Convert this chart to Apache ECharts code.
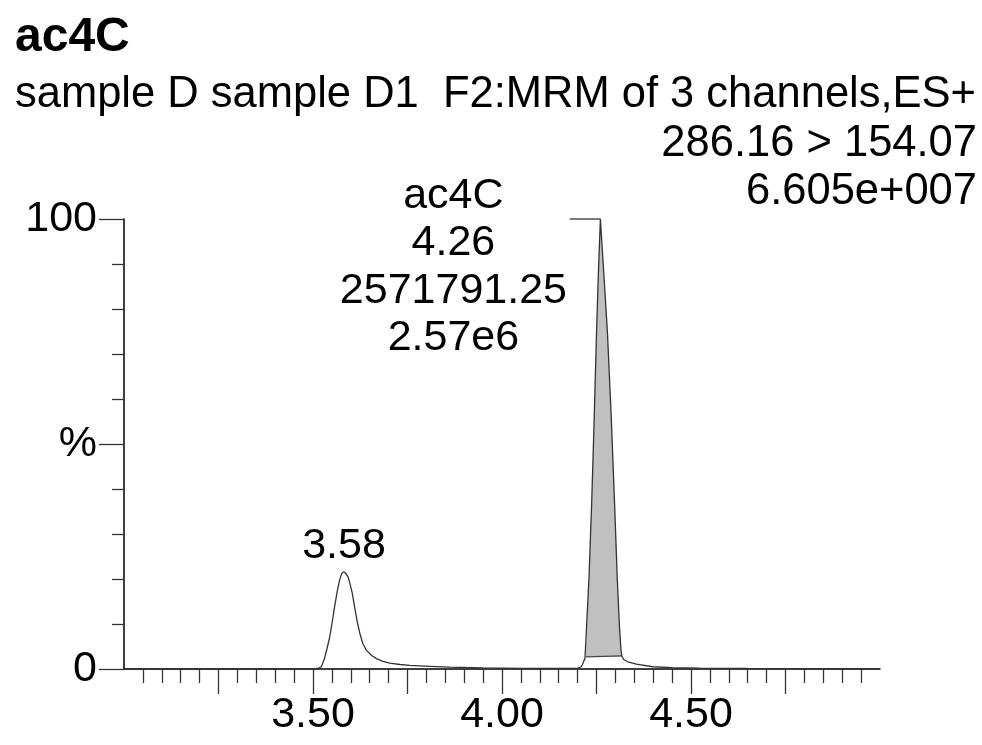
<!DOCTYPE html>
<html>
<head>
<meta charset="utf-8">
<script src="https://cdn.jsdelivr.net/npm/echarts@6/dist/echarts.min.js"></script>
<style>html,body{margin:0;padding:0;background:#fff}#c{width:982px;height:745px}</style>
</head>
<body>
<div id="c"></div>
<script>
// ---- data ----
const trace = [
  [3.000,0.0],[3.300,0.0],[3.500,0.05],[3.515,0.2],[3.522,0.5],[3.530,2.2],[3.537,4.5],[3.544,7.0],
  [3.551,10.5],[3.557,13.8],[3.564,17.2],[3.570,19.7],[3.576,21.2],[3.582,21.6],[3.588,21.1],
  [3.593,20.4],[3.597,19.2],[3.604,16.8],[3.610,13.8],[3.617,10.5],[3.624,7.9],[3.632,5.6],
  [3.641,4.2],[3.655,3.0],[3.668,2.3],[3.685,1.7],[3.703,1.3],[3.730,1.0],[3.756,0.8],[3.809,0.6],
  [3.862,0.4],[3.950,0.25],[4.050,0.15],[4.150,0.12],[4.200,0.15],[4.205,0.25],[4.2095,0.5],
  [4.213,1.0],[4.2165,1.8],[4.2195,2.3],[4.2217,2.7],[4.2300,20],[4.2375,37.5],[4.2440,56],
  [4.2500,74.7],[4.2550,88],[4.2603,100],[4.2700,87],[4.2790,74.7],[4.2890,56],[4.2975,37.5],
  [4.3050,20],[4.3110,9],[4.3150,4.0],[4.3170,2.9],[4.3220,2.1],[4.3330,1.6],[4.3556,1.1],
  [4.3987,0.5],[4.450,0.3],[4.523,0.18],[4.650,0.12],[5.000,0.1]
];
const integratedRange = [4.2217, 4.3170];
const integrationBaseline = [[4.2217,2.7],[4.3170,2.9]];
const leaderLine = [[4.179,100],[4.2603,100]];
const xMajorTicks = [3.25,3.5,3.75,4.0,4.25,4.5,4.75];
const xMinorTicks = [3.05,3.10,3.15,3.20,3.30,3.35,3.40,3.45,3.55,3.60,3.65,3.70,3.80,3.85,3.90,3.95,
  4.05,4.10,4.15,4.20,4.30,4.35,4.40,4.45,4.55,4.60,4.65,4.70,4.80,4.85,4.90,4.95];
const xLabelValues = [3.5,4.0,4.5];
const yMajorTicks = [0,50,100];
const yMinorTicks = [10,20,30,40,60,70,80,90];
const yLabelText = {0:'0',50:'%',100:'100'};
const smallPeak = {rt:'3.58', coord:[3.582,21.6]};
const mainPeak = {coord:[4.2603,100], lines:['ac4C','4.26','2571791.25','2.57e6']};

const FONT = '"Liberation Sans", Arial, sans-serif';
const chart = echarts.init(document.getElementById('c'), null, {renderer:'canvas'});
const integrated = trace.filter(p => p[0] >= integratedRange[0] && p[0] <= integratedRange[1]);

chart.setOption({
  animation:false,
  backgroundColor:'#fff',
  grid:{left:124, right:102, top:219, bottom:76},
  graphic:[
    {type:'text', x:15, y:38, style:{text:'ac4C', font:'bold 48px '+FONT, fill:'#000', verticalAlign:'middle', align:'left'}},
    {type:'text', x:15, y:95, style:{text:'sample D sample D1  F2:MRM of 3 channels,ES+', font:'43.5px '+FONT, fill:'#000', verticalAlign:'middle', align:'left'}},
    {type:'text', x:977, y:144, style:{text:'286.16 > 154.07', font:'43.5px '+FONT, fill:'#000', verticalAlign:'middle', align:'right'}},
    {type:'text', x:977, y:192, style:{text:'6.605e+007', font:'43.5px '+FONT, fill:'#000', verticalAlign:'middle', align:'right'}}
  ],
  xAxis:[
    {type:'value', min:3, max:5, position:'bottom',
     axisLine:{show:true, onZero:false, lineStyle:{color:'#000', width:1.5}},
     axisTick:{show:true, customValues:xMajorTicks, length:25, lineStyle:{color:'#333', width:1.3}},
     axisLabel:{show:true, customValues:xLabelValues, formatter:v=>v.toFixed(2), fontSize:43, fontFamily:FONT, color:'#000', margin:25},
     splitLine:{show:false}},
    {type:'value', min:3, max:5, position:'bottom',
     axisLine:{show:false},
     axisTick:{show:true, customValues:xMinorTicks, length:14, lineStyle:{color:'#333', width:1.3}},
     axisLabel:{show:false}, splitLine:{show:false}}
  ],
  yAxis:[
    {type:'value', min:0, max:100,
     axisLine:{show:true, lineStyle:{color:'#000', width:1.5}},
     axisTick:{show:true, customValues:yMajorTicks, length:25, lineStyle:{color:'#333', width:1.3}},
     axisLabel:{show:true, customValues:yMajorTicks, formatter:v=>yLabelText[v], fontSize:43, fontFamily:FONT, color:'#000', margin:27},
     splitLine:{show:false}},
    {type:'value', min:0, max:100, position:'left',
     axisLine:{show:false},
     axisTick:{show:true, customValues:yMinorTicks, length:12, lineStyle:{color:'#333', width:1.3}},
     axisLabel:{show:false}, splitLine:{show:false}}
  ],
  series:[
    {type:'line', data:integrated, symbol:'none', clip:false, z:1,
     lineStyle:{width:0, opacity:0},
     areaStyle:{color:'#c0c0c0', opacity:1, origin:2.7}},
    {type:'line', data:integrationBaseline, symbol:'none', clip:false, z:2,
     lineStyle:{color:'#444', width:1.3}},
    {type:'line', data:leaderLine, symbol:'none', clip:false, z:2,
     lineStyle:{color:'#333', width:1.3}},
    {type:'line', data:trace, symbol:'none', clip:false, z:3,
     lineStyle:{color:'#333', width:1.3},
     markPoint:{symbol:'circle', symbolSize:0, silent:true,
       data:[
         {coord:smallPeak.coord, label:{show:true, position:'inside', offset:[0,-26], formatter:smallPeak.rt,
           fontSize:43, fontFamily:FONT, color:'#000'}},
         {coord:mainPeak.coord, label:{show:true, position:'inside', offset:[-147,48], align:'center',
           formatter:mainPeak.lines.join('\n'), lineHeight:47.5, fontSize:43, fontFamily:FONT, color:'#000'}}
       ]}}
  ]
});
</script>
</body>
</html>
